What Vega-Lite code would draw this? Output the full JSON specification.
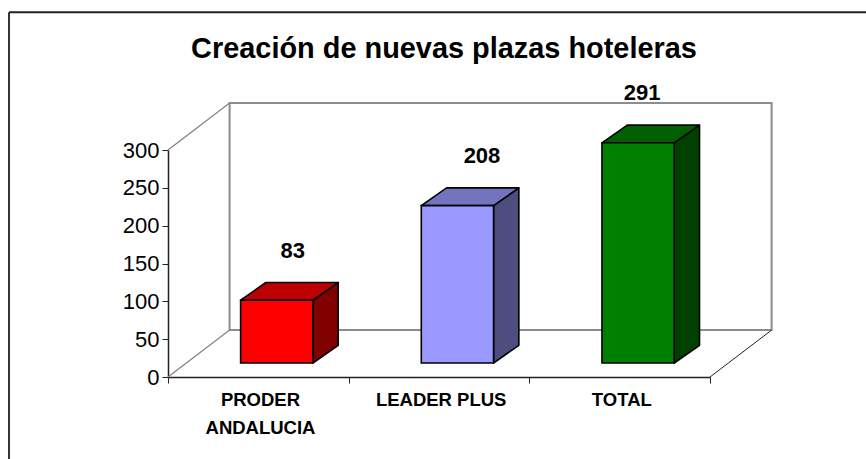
{
"$schema":"https://vega.github.io/schema/vega-lite/v6.json",
"width":542,"height":227,"autosize":"none",
"padding":{"left":168,"top":150,"right":156,"bottom":82},
"background":"white",
"view":{"stroke":null},
"title":{"text":"Creación de nuevas plazas hoteleras","font":"Liberation Sans","fontSize":28.9,"fontWeight":"bold","color":"black","anchor":"middle","frame":"group","dx":5,"offset":-53},
"datasets":{
"bars":[
{"category":"PRODER\nANDALUCIA","order":1,"value":83},
{"category":"LEADER PLUS","order":2,"value":208},
{"category":"TOTAL","order":3,"value":291}
],
"one":[{"k":1}]
},
"data":{"name":"bars"},
"layer":[
{"data":{"name":"one"},"mark":{"type":"rule","stroke":"#222222","strokeWidth":2},"encoding":{
"x":{"datum":-0.88,"type":"quantitative","scale":{"domain":[0,3],"nice":false,"zero":false},"axis":{"values":[0,1,2,3],"orient":"bottom","labels":false,"title":null,"grid":false,"domainColor":"#222222","tickColor":"#222222","tickSize":6,"domainWidth":1.5}},
"x2":{"datum":3.9},
"y":{"datum":482,"type":"quantitative","scale":{"domain":[0,300],"nice":false},"axis":{"values":[0,50,100,150,200,250,300],"tickCount":7,"labelOverlap":false,"labelSeparation":0,"orient":"left","title":null,"grid":false,"domainColor":"#222222","tickColor":"#222222","tickSize":6,"domainWidth":1.5,"labelFont":"Liberation Sans","labelFontSize":22,"labelColor":"black","labelPadding":3}},
"y2":{"datum":482}}},
{"data":{"name":"one"},"mark":{"type":"rule","stroke":"#333333","strokeWidth":2},"encoding":{"x":{"datum":-0.88,"type":"quantitative"},"x2":{"datum":-0.88},"y":{"datum":482,"type":"quantitative"},"y2":{"datum":-110}}},
{"data":{"name":"one"},"mark":{"type":"rect","fill":"white","stroke":"#8c8c8c","strokeWidth":2},"encoding":{"x":{"datum":0.341,"type":"quantitative"},"x2":{"datum":3.341},"y":{"datum":62,"type":"quantitative"},"y2":{"datum":362}}},
{"data":{"name":"one"},"mark":{"type":"rule","stroke":"#808080","strokeWidth":1.2},"encoding":{"x":{"datum":0,"type":"quantitative"},"x2":{"datum":0.341},"y":{"datum":0,"type":"quantitative"},"y2":{"datum":62}}},
{"data":{"name":"one"},"mark":{"type":"rule","stroke":"#808080","strokeWidth":1.2},"encoding":{"x":{"datum":0,"type":"quantitative"},"x2":{"datum":0.341},"y":{"datum":300,"type":"quantitative"},"y2":{"datum":362}}},
{"data":{"name":"one"},"mark":{"type":"rule","stroke":"#222222","strokeWidth":1},"encoding":{"x":{"datum":3,"type":"quantitative"},"x2":{"datum":3.341},"y":{"datum":0,"type":"quantitative"},"y2":{"datum":62}}},
{"transform":[
{"calculate":"[datum.order-0.5+0.102+0.2, datum.order-0.5+0.102+0.2+0.14]","as":"xs"},
{"calculate":"[18.5+datum.value, 18.5+datum.value+23.4]","as":"tops"},
{"calculate":"[18.5, 18.5+23.4]","as":"bots"},
{"flatten":["xs","tops","bots"]}],
"mark":{"type":"area","stroke":"black","strokeWidth":1.6,"strokeJoin":"round"},
"encoding":{"x":{"field":"xs","type":"quantitative"},"y":{"field":"tops","type":"quantitative"},"y2":{"field":"bots"},"detail":{"field":"order"},
"fill":{"field":"order","type":"nominal","legend":null,"scale":{"domain":[1,2,3],"range":["#800000","#4d4d80","#004000"]}}}},
{"transform":[
{"calculate":"[datum.order-0.5+0.102-0.2, datum.order-0.5+0.102-0.2+0.14]","as":"xl"},
{"calculate":"[datum.order-0.5+0.102+0.2, datum.order-0.5+0.102+0.2+0.14]","as":"xr"},
{"calculate":"[18.5+datum.value, 18.5+datum.value+23.4]","as":"ys"},
{"flatten":["xl","xr","ys"]}],
"mark":{"type":"area","orient":"horizontal","stroke":"black","strokeWidth":1.6,"strokeJoin":"round"},
"encoding":{"y":{"field":"ys","type":"quantitative"},"x":{"field":"xl","type":"quantitative"},"x2":{"field":"xr"},"detail":{"field":"order"},
"fill":{"field":"order","type":"nominal","legend":null,"scale":{"domain":[1,2,3],"range":["#bf0000","#7373bf","#006000"]}}}},
{"transform":[
{"calculate":"datum.order-0.5+0.102-0.2","as":"x0"},
{"calculate":"datum.order-0.5+0.102+0.2","as":"x1"},
{"calculate":"18.5+datum.value","as":"top"},
{"calculate":"18.5","as":"bot"}],
"mark":{"type":"rect","stroke":"black","strokeWidth":1.6},
"encoding":{"x":{"field":"x0","type":"quantitative"},"x2":{"field":"x1"},"y":{"field":"top","type":"quantitative"},"y2":{"field":"bot"},
"fill":{"field":"order","type":"nominal","legend":null,"scale":{"domain":[1,2,3],"range":["#ff0000","#9999ff","#008000"]}}}},
{"transform":[{"calculate":"datum.order-0.5+0.012","as":"lx"},{"calculate":"split(datum.category,'\\n')","as":"lines"},{"calculate":"-30","as":"ly"}],
"mark":{"type":"text","font":"Liberation Sans","fontWeight":"bold","fontSize":18.5,"color":"black","baseline":"middle","lineHeight":28,"align":"center"},
"encoding":{"x":{"field":"lx","type":"quantitative"},"y":{"field":"ly","type":"quantitative"},"text":{"field":"lines"}}},
{"transform":[{"calculate":"datum.order==1?0.69:datum.order==2?1.738:2.624","as":"lx"},{"calculate":"18.5+datum.value+23.4+42","as":"ly"}],
"mark":{"type":"text","font":"Liberation Sans","fontWeight":"bold","fontSize":22,"color":"black","baseline":"middle","align":"center"},
"encoding":{"x":{"field":"lx","type":"quantitative"},"y":{"field":"ly","type":"quantitative"},"text":{"field":"value","type":"quantitative"}}}
],
"resolve":{"scale":{"fill":"independent"}}
}
